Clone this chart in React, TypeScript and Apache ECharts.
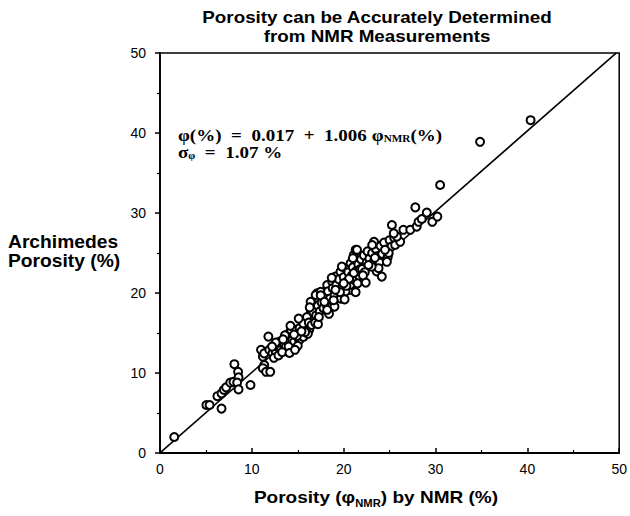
import { useEffect, useRef } from "react";
import * as echarts from "echarts";

// Axis ticks (percent porosity)
const axisMin = 0;
const axisMax = 50;
const axisStep = 10;

// Regression reported on the chart
const fitIntercept = 0.017;
const fitSlope = 1.006;
const fitXRange = [0, 49.69];

// [NMR porosity %, Archimedes porosity %]
const lowRange: [number, number][] = [
  [1.55, 2.0], [5.05, 6.0], [5.4, 6.0], [6.7, 5.55], [6.25, 7.1], [6.7, 7.45],
  [6.95, 7.9], [7.2, 8.2], [7.65, 8.8], [8.0, 8.9], [8.1, 11.1], [8.5, 10.15],
  [8.55, 9.45], [8.4, 8.8], [8.55, 7.95], [9.85, 8.5],
];

const midBand: [number, number][] = [
  [11.0, 12.9], [11.2, 12.05], [11.35, 11.0], [11.2, 10.6], [11.55, 10.15], [12.0, 10.15],
  [11.35, 12.45], [11.8, 14.55], [11.9, 12.9], [12.25, 12.45], [12.6, 12.65], [12.8, 13.3],
  [13.2, 13.1], [13.0, 13.9], [13.15, 12.9], [13.5, 13.5], [13.7, 13.3], [13.9, 13.9],
  [14.05, 14.95], [14.4, 13.7], [14.4, 14.1], [14.25, 15.4], [14.8, 15.4], [14.6, 13.9],
  [15.15, 14.1], [15.35, 14.95], [15.5, 15.8], [15.9, 16.6], [16.25, 15.4], [16.4, 17.45],
  [16.8, 16.85], [16.95, 17.9], [16.6, 18.7], [12.4, 11.9], [12.9, 12.2], [13.3, 12.6],
  [12.6, 13.8], [13.6, 14.7], [14.0, 13.3], [15.0, 13.4], [15.6, 14.5], [16.1, 14.9],
  [14.9, 14.6], [15.2, 15.6], [15.6, 16.2], [15.8, 15.1], [16.0, 17.0], [16.2, 16.3],
  [16.5, 16.0], [16.7, 17.6], [14.2, 15.9], [15.1, 16.8], [14.1, 12.5], [14.7, 12.9],
  [13.4, 14.2], [14.6, 14.8], [15.4, 15.2], [16.9, 16.3], [12.2, 13.3],
];

const coreBand: [number, number][] = [
  [17.1, 19.95], [16.4, 18.9], [16.95, 19.75], [17.5, 20.15], [17.7, 19.1], [18.2, 21.0],
  [18.75, 21.4], [19.1, 22.05], [19.65, 22.65], [20.2, 23.1], [20.75, 23.7], [21.1, 24.75],
  [21.3, 25.4], [20.75, 20.4], [19.3, 19.95], [17.0, 17.2], [17.2, 18.4], [17.4, 17.7],
  [17.6, 18.8], [17.8, 18.1], [18.0, 19.5], [18.1, 18.6], [18.3, 20.2], [18.5, 19.3],
  [18.6, 18.2], [18.8, 20.6], [19.0, 19.7], [19.2, 21.0], [19.4, 20.3], [19.5, 21.7],
  [19.7, 19.3], [19.9, 20.9], [20.0, 22.0], [20.2, 20.2], [20.4, 21.5], [20.5, 22.6],
  [20.7, 21.0], [20.9, 22.2], [21.0, 23.2], [21.2, 21.6], [21.4, 22.8], [21.6, 23.6],
  [21.7, 22.1], [21.9, 24.2], [17.2, 16.1], [18.4, 17.4], [19.0, 18.3], [20.1, 19.2],
  [21.3, 20.1], [16.3, 18.2], [17.5, 19.7], [18.7, 21.9], [19.8, 23.3],
  [17.9, 18.9], [18.9, 19.1], [19.6, 20.1], [20.3, 20.9], [20.6, 21.8], [21.5, 21.2],
  [17.3, 17.0], [18.2, 17.9], [19.1, 20.4], [20.0, 21.2], [21.1, 22.5], [21.8, 23.0],
];

const upperBand: [number, number][] = [
  [22.0, 23.0], [22.2, 24.7], [22.3, 22.6], [22.5, 23.8], [22.6, 25.2], [22.8, 24.3],
  [23.0, 23.4], [23.1, 25.0], [23.3, 24.0], [23.5, 25.5], [23.7, 24.6], [23.9, 23.8],
  [24.0, 25.9], [24.2, 24.9], [24.4, 26.3], [24.6, 25.4], [24.8, 24.5], [25.0, 26.6],
  [25.2, 25.8], [25.5, 26.9], [22.4, 21.3], [23.6, 22.7], [24.15, 22.05], [23.8, 23.1],
  [23.05, 23.3], [24.7, 23.9], [24.9, 25.0], [24.5, 25.4], [21.45, 25.4], [21.0, 24.35],
  [23.3, 26.4], [23.1, 26.0], [25.6, 26.0], [26.15, 26.4], [25.8, 27.05], [25.45, 27.45],
  [25.25, 28.5], [26.5, 27.9], [27.25, 27.9], [27.95, 28.3], [28.15, 28.9], [28.5, 29.25],
  [29.65, 28.9], [30.2, 29.55], [29.05, 30.05], [27.8, 30.7], [30.5, 33.5], [34.85, 38.9],
  [40.35, 41.6], [22.7, 23.5], [23.4, 24.4], [22.1, 22.2],
];

const SANS = "'Liberation Sans', Arial, Helvetica, sans-serif";
const SERIF = "'Liberation Serif', 'Times New Roman', serif";

export default function App() {
  const ref = useRef<HTMLDivElement>(null);

  useEffect(() => {
    if (!ref.current) return;
    const chart = echarts.init(ref.current, null, { renderer: "svg" });

    const samples = [...lowRange, ...midBand, ...coreBand, ...upperBand];
    const fitLine = fitXRange.map((x) => [x, fitIntercept + fitSlope * x]);

    const axisCommon = {
      type: "value" as const,
      min: axisMin,
      max: axisMax,
      interval: axisStep,
      splitLine: { show: false },
      axisLine: { show: true, lineStyle: { color: "#000", width: 1.8 } },
      axisLabel: { color: "#000", fontSize: 14, fontFamily: SANS },
    };

    chart.setOption({
      animation: false,
      backgroundColor: "#fff",
      grid: {
        left: 160,
        right: 8,
        top: 53,
        bottom: 63,
        show: true,
        borderColor: "#000",
        borderWidth: 1.5,
      },
      xAxis: {
        ...axisCommon,
        axisTick: { inside: true, length: 5, lineStyle: { color: "#000", width: 1.5 } },
        minorTick: { show: true, splitNumber: 2, length: 3, lineStyle: { color: "#000", width: 1.2 } },
        axisLabel: { ...axisCommon.axisLabel, margin: 9 },
      },
      yAxis: {
        ...axisCommon,
        axisTick: { inside: false, length: 5, lineStyle: { color: "#000", width: 1.5 } },
        minorTick: { show: true, splitNumber: 2, length: 3, lineStyle: { color: "#000", width: 1.2 } },
        axisLabel: { ...axisCommon.axisLabel, margin: 14 },
      },
      graphic: [
        {
          type: "text",
          x: 377,
          y: 8,
          scaleX: 1.14,
          style: {
            text: "Porosity can be Accurately Determined\nfrom NMR Measurements",
            fontFamily: SANS,
            fontWeight: "bold",
            fontSize: 16.5,
            lineHeight: 19,
            textAlign: "center",
            fill: "#000",
          },
        },
        {
          type: "text",
          x: 8,
          y: 232,
          scaleX: 1.1,
          style: {
            text: "Archimedes\nPorosity (%)",
            fontFamily: SANS,
            fontWeight: "bold",
            fontSize: 17.5,
            lineHeight: 19,
            textAlign: "left",
            fill: "#000",
          },
        },
        {
          type: "text",
          x: 376,
          y: 486,
          scaleX: 1.12,
          style: {
            text: "Porosity (φ{s|NMR}) by NMR (%)",
            fontFamily: SANS,
            fontWeight: "bold",
            fontSize: 17,
            lineHeight: 22,
            textAlign: "center",
            fill: "#000",
            rich: {
              s: {
                fontFamily: SANS,
                fontWeight: "bold",
                fontSize: 10,
                lineHeight: 12,
                verticalAlign: "bottom",
                fill: "#000",
              },
            },
          },
        },
        {
          type: "text",
          x: 178,
          y: 127,
          scaleX: 1.12,
          style: {
            text: "φ(%)  =  0.017  +  1.006 φ{s|NMR}(%)\nσ{s|φ}  =  1.07 %",
            fontFamily: SERIF,
            fontWeight: "bold",
            fontSize: 17,
            lineHeight: 17,
            textAlign: "left",
            fill: "#000",
            rich: {
              s: {
                fontFamily: SERIF,
                fontWeight: "bold",
                fontSize: 10,
                lineHeight: 10,
                verticalAlign: "bottom",
                fill: "#000",
              },
            },
          },
        },
      ],
      series: [
        {
          type: "line",
          data: fitLine,
          symbol: "none",
          z: 1,
          lineStyle: { color: "#000", width: 1.6 },
          silent: true,
        },
        {
          type: "scatter",
          data: samples,
          symbol: "circle",
          symbolSize: 8,
          z: 2,
          itemStyle: { color: "#fff", borderColor: "#000", borderWidth: 2, opacity: 1 },
        },
      ],
    });

    return () => chart.dispose();
  }, []);

  return (
    <div
      ref={ref}
      style={{ position: "absolute", left: 0, top: 0, width: 630, height: 516, background: "#fff" }}
    />
  );
}
